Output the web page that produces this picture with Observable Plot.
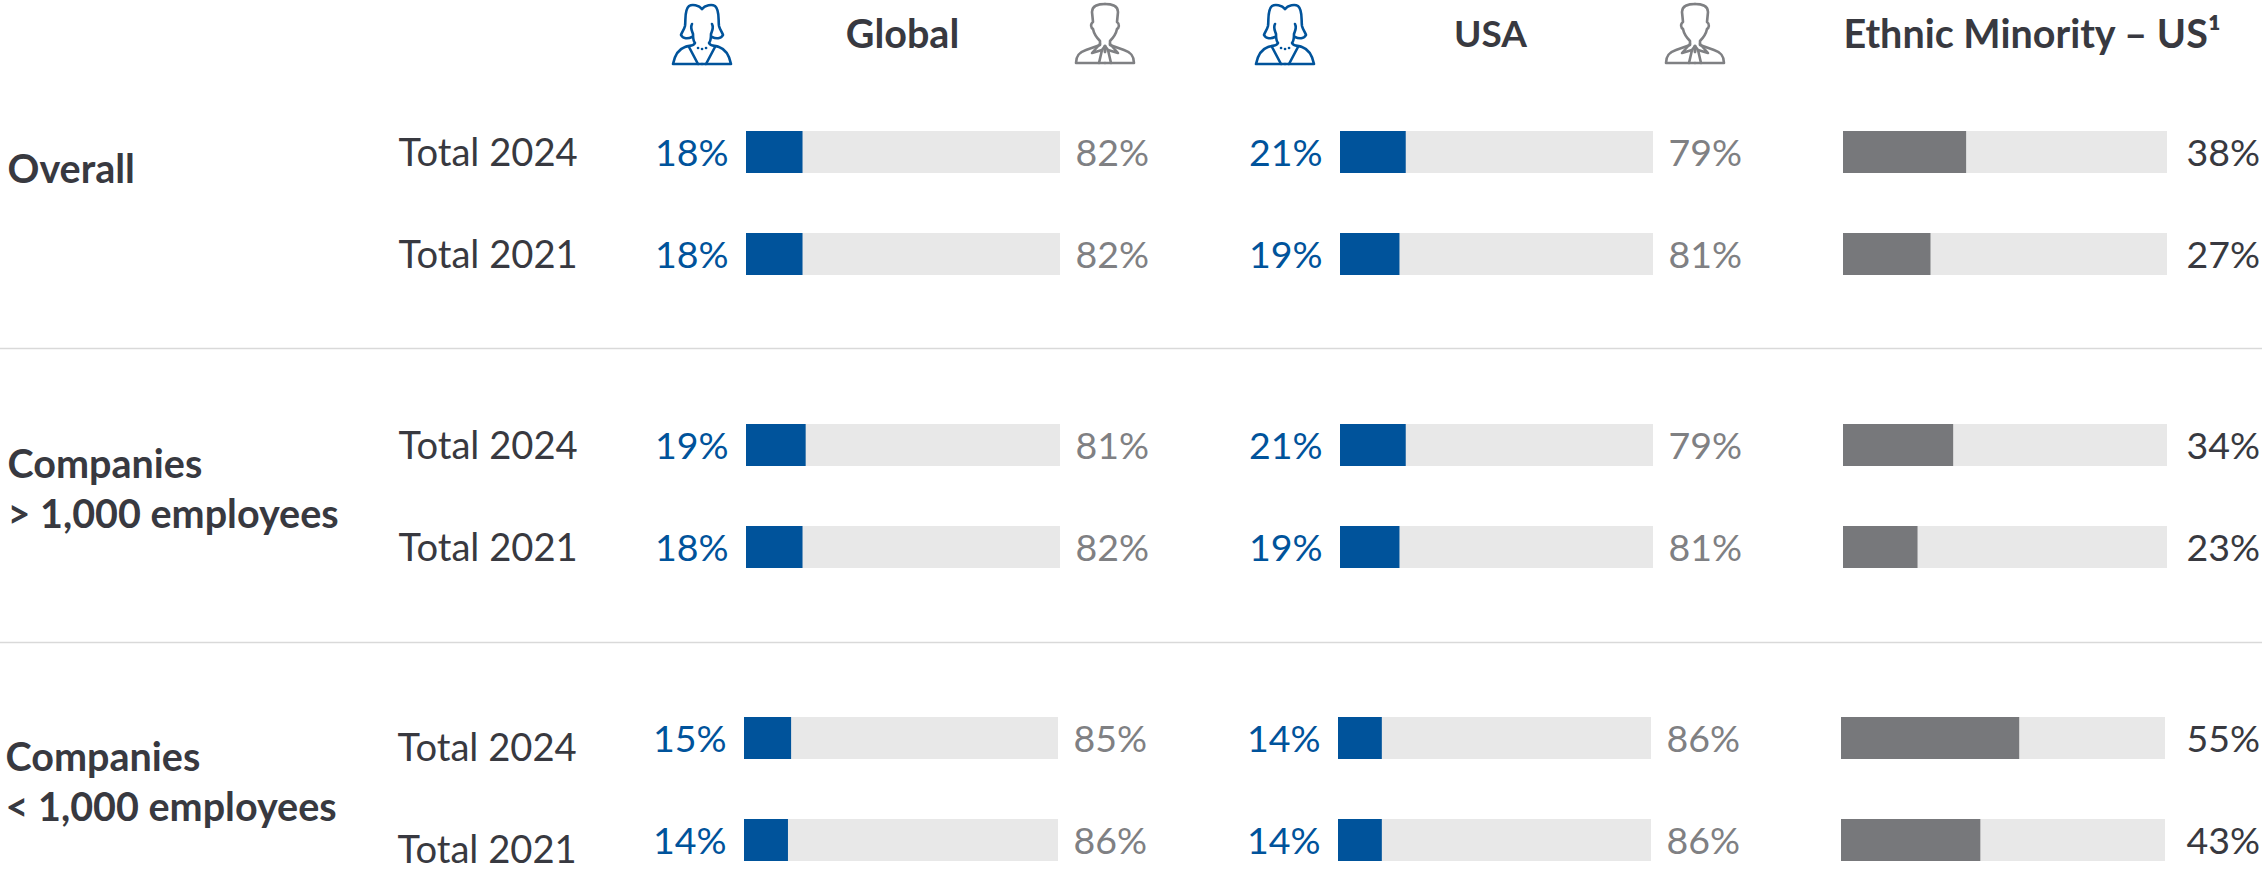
<!DOCTYPE html>
<html>
<head>
<meta charset="utf-8">
<script src="https://cdn.jsdelivr.net/npm/d3@7"></script>
<script src="https://cdn.jsdelivr.net/npm/@observablehq/plot@0.6"></script>
<style>
html,body{margin:0;padding:0;background:#fff}
#chart{position:relative;width:2262px;height:870px;overflow:hidden}
#chart svg{position:absolute;left:0;top:0}
</style>
</head>
<body>
<div id="chart"></div>
<script>
const groups = ["Overall", "Companies\n> 1,000 employees", "Companies\n< 1,000 employees"];
const rows = ["Total 2024", "Total 2021"];
const rowGroup = [0, 0, 1, 1, 2, 2];
const rowName = [0, 1, 0, 1, 0, 1];
const globalWomen = [18, 18, 19, 18, 15, 14];
const globalMen = [82, 82, 81, 82, 85, 86];
const usaWomen = [21, 19, 21, 19, 14, 14];
const usaMen = [79, 81, 79, 81, 86, 86];
const ethnicMinority = [38, 27, 34, 23, 55, 43];
const headers = ["Global", "USA", "Ethnic Minority – US¹"];

const BLUE = "#00539b", GREY = "#77787b", TRACK = "#e8e8e8", DARK = "#383940", MUTED = "#7f8083", RULE = "#d9d9d9";
const FONT = "Lato, 'Open Sans', sans-serif";
const root = document.getElementById("chart");
const FY_RANGE = [54.5, 936];
const Y_SCALE = {type: "band", domain: rows, paddingInner: 0.59, paddingOuter: 0.72, axis: null};

const table = (main, other) => main.map((v, i) => ({
  group: groups[rowGroup[i]], gi: rowGroup[i], row: rows[rowName[i]], v, other: other ? other[i] : null
}));

function base(range, marks) {
  return Plot.plot({
    width: 2262, height: 870, margin: 0,
    style: {fontFamily: FONT, background: "transparent", overflow: "visible"},
    x: {domain: [0, 100], range, axis: null},
    fy: {domain: groups, range: FY_RANGE, padding: 0, axis: null},
    y: Y_SCALE,
    marks
  });
}

function panel(data, range, color, opts = {}) {
  const marks = [];
  [[0, 0], [1, 0], [2, -2]].forEach(([gi, dx]) => {
    const d = data.filter(r => r.gi === gi);
    const dy = gi === 2 ? 1 : 1;
    marks.push(
      Plot.barX(d, {x1: () => 0, x2: () => 100, y: "row", fy: "group", fill: TRACK, dx}),
      Plot.barX(d, {x1: () => 0, x2: "v", y: "row", fy: "group", fill: color, dx})
    );
    if (opts.women) marks.push(Plot.text(d, {
      x: () => 0, y: "row", fy: "group", text: r => r.v + "%", textAnchor: "end",
      dx: -18 + dx, fontSize: 37.5, fill: BLUE, dy
    }));
    marks.push(Plot.text(d, {
      x: () => 100, y: "row", fy: "group", text: r => (opts.women ? r.other : r.v) + "%", textAnchor: "start",
      dx: (opts.women ? 15 : 19) + (opts.women ? dx : 0), fontSize: 37.5, fill: opts.women ? MUTED : DARK, dy
    }));
  });
  return base(range, marks);
}

const globalData = table(globalWomen, globalMen);
const usaData = table(usaWomen, usaMen);
const ethnicData = table(ethnicMinority);

const sectionMark = (gi, dy) => Plot.text(groups.filter((_, i) => i === gi), {
  fy: d => d, text: d => d, frameAnchor: "left", dx: gi === 2 ? 5 : 7, dy,
  textAnchor: "start", fontSize: 39.5, fontWeight: 700, fill: DARK, lineHeight: 1.28
});

const labelPlot = Plot.plot({
  width: 2262, height: 870, margin: 0,
  style: {fontFamily: FONT, background: "transparent", overflow: "visible"},
  x: {domain: [0, 2262], range: [0, 2262], axis: null},
  fy: {domain: groups, range: FY_RANGE, padding: 0, axis: null},
  y: Y_SCALE,
  marks: [
    sectionMark(0, -36), sectionMark(1, -9), sectionMark(2, -9),
    Plot.text(globalData.filter(d => d.gi < 2), {x: () => 398, y: "row", fy: "group", text: "row", textAnchor: "start", fontSize: 38.2, fill: DARK, dy: 1}),
    Plot.text(globalData.filter(d => d.gi === 2), {x: () => 397, y: "row", fy: "group", text: "row", dy: 10, textAnchor: "start", fontSize: 38.2, fill: DARK})
  ]
});

// Column headers, separators and person icons
const womanPaths = `
<path d="M30 5C27 1 20 0 17 2C12 6 14 16 13 22C12 26 10 28 9 31C11 35 16 35 20 33"/>
<path d="M20 20C18 24 20 27 21 30C21 34 22 38 23 39C21 43 17 41 13 43C7 45 3 50 1 60L30 60"/>
<path d="M17 43L26 60"/>`;
const manPaths = `
<path d="M30 1C24 1 17 2 17 9L18 19C15 21 16 25 18 26C19 31 22 35 25 38L25 42L11 47C5 49 1 52 1 60L30 60"/>
<path d="M25 41L17 50L27 47L30 43"/>
<path d="M27 47L24 60M30 43L30 49"/>`;

function icon(x, y, color, paths, dots) {
  return () => {
    const g = document.createElementNS("http://www.w3.org/2000/svg", "g");
    g.setAttribute("transform", `translate(${x},${y})`);
    g.setAttribute("fill", "none");
    g.setAttribute("stroke", color);
    g.setAttribute("stroke-width", "2.6");
    g.setAttribute("stroke-linejoin", "round");
    g.setAttribute("stroke-linecap", "round");
    g.innerHTML = `<g>${paths}</g><g transform="translate(60,0) scale(-1,1)">${paths}</g>` +
      (dots ? `<path d="M26 44h.1M30 45h.1M34 44h.1"/>` : "");
    return g;
  };
}

const headerPlot = Plot.plot({
  width: 2262, height: 870, margin: 0,
  style: {fontFamily: FONT, background: "transparent", overflow: "visible"},
  x: {domain: [0, 2262], range: [0, 2262], axis: null},
  y: {domain: [0, 870], range: [0, 870], axis: null},
  marks: [
    Plot.ruleY([348, 642], {stroke: RULE, strokeWidth: 1.5}),
    Plot.text([headers[0]], {x: () => 902, y: () => 35, fontSize: 39.5, fontWeight: 700, fill: DARK}),
    Plot.text([headers[1]], {x: () => 1490, y: () => 35, fontSize: 37, fontWeight: 700, fill: DARK}),
    Plot.text([headers[2]], {x: () => 1843, y: () => 35, textAnchor: "start", fontSize: 39.5, fontWeight: 700, fill: DARK}),
    icon(672, 4, BLUE, womanPaths, true),
    icon(1075, 3, MUTED, manPaths),
    icon(1255, 4, BLUE, womanPaths, true),
    icon(1665, 3, MUTED, manPaths)
  ]
});

root.append(
  headerPlot, labelPlot,
  panel(globalData, [746, 1060], BLUE, {women: true}),
  panel(usaData, [1340, 1653], BLUE, {women: true}),
  panel(ethnicData, [1843, 2167], GREY)
);
</script>
</body>
</html>
